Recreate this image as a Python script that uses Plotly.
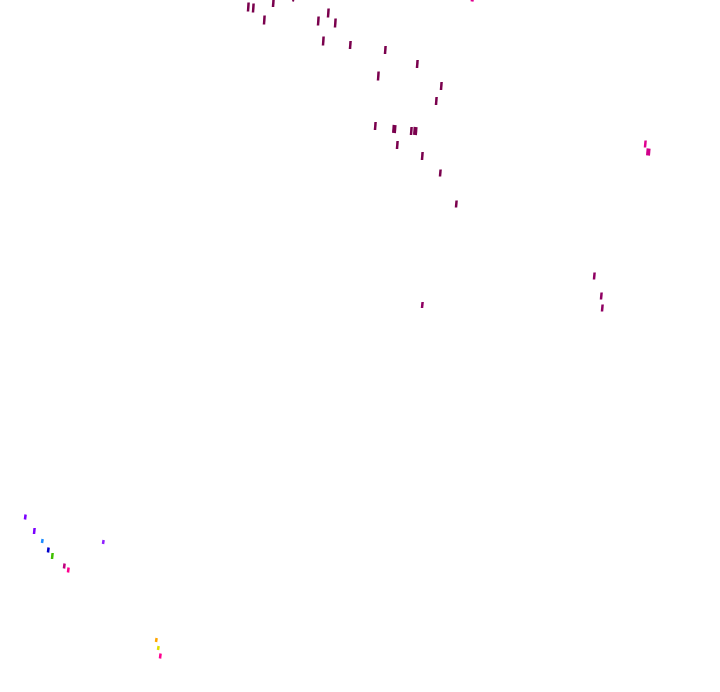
import plotly.graph_objects as go

# mark positions (pixel-like data units), heights and colours
xs = [248, 253, 273, 293, 264, 318, 328, 335, 323, 350, 385, 417, 378, 441, 436,
      375, 394, 411, 415, 397, 422, 440, 456, 472, 645, 648, 594, 601, 602, 422,
      25, 34, 42, 48, 52, 64, 68, 103, 156, 158, 160]
ys = [7, 8, 3, 0, 20, 21, 13, 23, 41, 45, 50, 64, 76, 86, 101,
      126, 129, 131, 131, 145, 156, 173, 204, 0, 144, 152, 276, 296, 308, 305,
      517, 531, 541, 550, 556, 566, 570, 542, 640, 648, 656]
hs = [9, 9, 8, 3, 9, 9, 9, 9, 9, 8, 8, 8, 9, 8, 8,
      8, 8, 8, 8, 8, 8, 7, 7, 3, 7, 7, 7, 7, 7, 6,
      5, 6, 4, 5, 6, 5, 5, 4, 4, 4, 5]
ws = [2.5, 2.5, 2.5, 2, 2.5, 2.5, 2.5, 2.5, 2.5, 2.5, 2.5, 2.5, 2.5, 2.5, 2.5,
      2.5, 4, 2.5, 4, 2.5, 2.5, 2.5, 2.5, 3, 2.5, 4, 2.5, 2.5, 2.5, 2.5,
      2.5, 2.5, 2.5, 2.5, 2.5, 2.5, 2.5, 2.5, 2.5, 2.5, 2.5]
cs = ["#7a004d"] * 23 + ["#e0008f", "#e0008f", "#d0008a", "#8f0062", "#8f0062", "#8f0062", "#8f0062",
      "#7b00ff", "#7b00ff", "#1a8cff", "#0000cc", "#40c000", "#c0007f", "#ff0090",
      "#9020ff", "#ffa500", "#e0e000", "#ff0090"]

fig = go.Figure()
for x, y, h, w, c in zip(xs, ys, hs, ws, cs):
    fig.add_trace(go.Scatter(
        x=[x, x + 0.6], y=[y + h / 2, y - h / 2], mode="lines",
        line=dict(color=c, width=w), hoverinfo="skip", showlegend=False,
        cliponaxis=False))

fig.update_layout(
    width=720, height=692, margin=dict(l=0, r=0, t=0, b=0),
    paper_bgcolor="white", plot_bgcolor="white",
    xaxis=dict(range=[0, 720], visible=False),
    yaxis=dict(range=[692, 0], visible=False),
)
fig.write_html("out.html", config={"displayModeBar": False},
               post_script="document.body.style.margin='0';")
